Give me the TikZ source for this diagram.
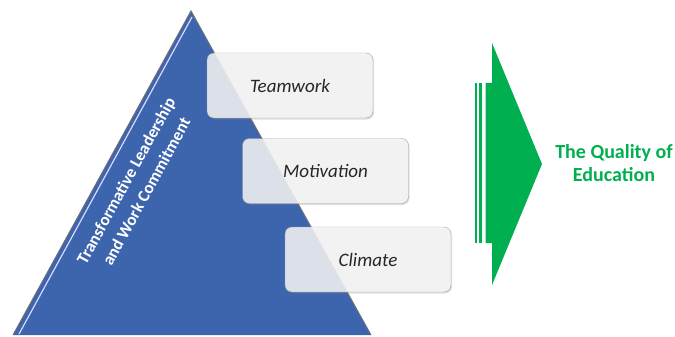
\documentclass[tikz,border=0pt]{standalone}
\usepackage{fontspec}
\setmainfont{Carlito}
\usetikzlibrary{shadows,calc}
\definecolor{pyrblue}{RGB}{61,101,174}
\definecolor{pyredge}{RGB}{110,110,118}
\definecolor{qgreen}{RGB}{0,176,80}
\tikzset{
	factor/.style={draw=gray!75, fill=gray!7, fill opacity=0.85, text opacity=1,
		rounded corners=7pt, minimum width=166pt, minimum height=65pt,
		font=\fontsize{19}{22}\selectfont\itshape, text=black!85,
		drop shadow={opacity=0.25, shadow xshift=1pt, shadow yshift=-1.5pt}},
}
\begin{document}
\begin{tikzpicture}[x=1pt,y=-1pt]
	\useasboundingbox (0,0) rectangle (675,337);
	
	% pyramid
	\coordinate (top) at (191,11);
	\coordinate (bl) at (13,335);
	\coordinate (br) at (371,335);
	\fill[pyrblue] (top) -- (bl) -- (br) -- cycle;
	\draw[pyredge, line width=1pt] (br) -- (top) -- (bl);
	\draw[blue!15!white, line width=1.2pt] ($(top)+(1,6)$) -- ($(bl)+(6,-1)$);
	\node[text=white, rotate=61.3, align=center, font=\fontsize{17}{23}\selectfont\bfseries] (lead) at (136,186) {Transformative Leadership\\and Work Commitment};
	
	% factors
	\node[factor] (team) at (290,85.5) {Teamwork};
	\node[factor] (moti) at (325.5,171) {Motivation};
	\node[factor] (clim) at (368,259.5) {Climate};
	
	% green arrow
	\fill[qgreen] (492,43) -- (542,164) -- (492,285) -- (492,243) -- (485.5,243) -- (485.5,83) -- (492,83) -- cycle;
	\fill[qgreen] (479,83) rectangle (481.8,243);
	\fill[qgreen] (475,83) rectangle (476.6,243);
	\node[text=qgreen, align=center, font=\fontsize{20}{22.5}\selectfont\bfseries] (qual) at (614,163) {The Quality of\\Education};
\end{tikzpicture}
\end{document}
